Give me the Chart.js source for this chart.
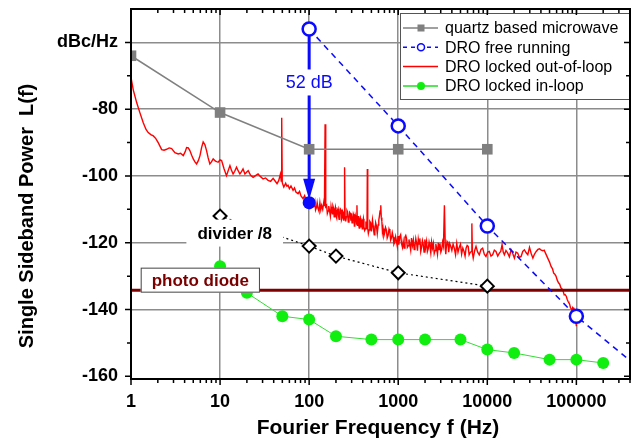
<!DOCTYPE html>
<html>
<head>
<meta charset="utf-8">
<script src="https://cdn.jsdelivr.net/npm/chart.js@4.4.1/dist/chart.umd.min.js"></script>
<style>
  html, body { margin: 0; padding: 0; background: #fff; }
</style>
</head>
<body>
<canvas id="noiseChart" width="639" height="442"></canvas>
<script>
// tick labels
const xTickValues = [1, 10, 100, 1000, 10000, 100000];
const xTickLabels = ['1', '10', '100', '1000', '10000', '100000'];
const yTickValues = [-160, -140, -120, -100, -80, -60];
const yTickLabels = ['-160', '-140', '-120', '-100', '-80', 'dBc/Hz'];

// quartz based microwave
const quartzF = [1, 10, 100, 1000, 10000];
const quartzL = [-64, -81, -92, -92, -92];

// DRO free running (last point is where the dashed line leaves the frame)
const freeF = [100, 1000, 10000, 100000, 400000];
const freeL = [-56, -85, -115, -142, -155.3];

// DRO locked in-loop
const inLoopF = [10, 20, 50, 100, 200, 500, 1000, 2000, 5000, 10000, 20000, 50000, 100000, 200000];
const inLoopL = [-127, -135, -142, -143, -148, -149, -149, -149, -149, -152, -153, -155, -155, -156];

// divider /8
const dividerF = [10, 100, 200, 1000, 10000];
const dividerL = [-112, -121, -124, -129, -133];

// photo diode floor
const photoF = [1, 400000];
const photoL = [-134.2, -134.2];

// DRO locked out-of-loop [f, L]
const outOfLoop = [
  [1,-70.5],[1.06,-74.2],[1.16,-78.1],[1.26,-81.1],[1.37,-84],[1.47,-86],[1.56,-87],[1.67,-87.6],
  [1.78,-88],[1.9,-88.8],[2.02,-90],[2.21,-92.1],[2.35,-92.3],[2.51,-92],[2.68,-91.6],[2.86,-91.8],
  [3.11,-93],[3.39,-93.4],[3.6,-93.2],[3.86,-93.9],[4.05,-92.8],[4.21,-91.5],[4.4,-91.6],[4.58,-92.4],
  [4.8,-93.8],[5.0,-94.9],[5.22,-95.8],[5.45,-96.4],[5.7,-95.4],[5.95,-93.9],[6.2,-91.5],[6.46,-89.8],
  [6.75,-90.6],[7.05,-92.4],[7.35,-94.6],[7.68,-96.4],[8.0,-95.8],[8.37,-94.9],[8.9,-95.6],[9.5,-95.9],
  [10.0,-95.2],[10.4,-95.4],[11.1,-97.9],[11.8,-99.9],[12.3,-98.5],[12.9,-96.9],[13.4,-98.2],[14.0,-99.4],
  [14.6,-98.6],[15.3,-97.4],[16.0,-98.5],[16.7,-99.4],[17.4,-98.7],[18.1,-97.9],[19.0,-99.4],[19.8,-98.9],
  [20.7,-98.4],[22.0,-99.8],[23.5,-100.4],[25.0,-99.9],[26.7,-99.4],[28.5,-100.2],[30.4,-100.9],[32.4,-100.6],
  [34.6,-101.3],[37.0,-101.6],[39.4,-100.7],[41.5,-101.5],[43.6,-102.3],[45.5,-101.4],[47.6,-99.4],[48.6,-101.5],
  [49.2,-82.6],[49.9,-102.0],[51.9,-103.3],[54.5,-102.2],[56.0,-103.0],[58.0,-102.8],[60.0,-103.8],[62.5,-103.0],
  [66.0,-104.3],[68.5,-103.6],[71.0,-104.8],[75.1,-105.3],[78.0,-104.6],[81.0,-106.0],[85.5,-106.8],[89.0,-105.9],
  [93.0,-107.5],[97.4,-108.3],[99,-106.9],[101,-107.4],[103,-109.5],[106,-108.8],[108,-107.0],[111,-107.2],
  [113,-109.3],[116,-107.8],[118,-110.2],[121,-109.4],[123,-108.0],[126,-109.8],[129,-110.6],[132,-108.0],
  [135,-110.1],[138,-108.8],[142,-110.0],[146,-107.8],[148.5,-109.0],[151,-84.5],[153.5,-109.2],[157,-108.8],
  [160,-111.2],[163,-110.5],[166,-109.0],[170,-110.7],[173,-112.0],[176,-109.2],[179,-110.6],[182,-111.3],
  [185,-109.0],[188,-109.6],[191,-112.2],[194,-110.2],[197,-109.4],[200,-111.8],[204,-112.6],[207,-110.4],
  [211,-109.8],[214,-112.0],[217,-113.0],[220,-111.7],[224,-109.9],[228,-110.2],[231,-113.1],[235,-112.5],
  [238,-110.6],[242,-111.0],[245,-113.4],[247,-112.3],[250,-97.4],[253,-112.0],[257,-113.6],[262,-112.2],
  [266,-110.4],[270,-110.8],[275,-113.8],[280,-113.0],[285,-110.9],[290,-111.2],[294,-113.4],[298,-111.2],
  [303,-114.0],[308,-113.5],[313,-111.4],[318,-112.0],[322,-115.0],[325,-114.2],[330,-111.8],[335,-112.5],
  [340,-114.4],[344,-108.8],[348,-114.8],[352,-113.6],[356,-112.0],[360,-114.7],[365,-115.6],[369,-113.2],
  [375,-112.6],[380,-115.4],[385,-114.2],[390,-113.0],[395,-115.8],[400,-113.7],[406,-112.8],[412,-115.2],
  [420,-116.3],[429,-115.7],[434,-113.6],[440,-114.6],[446,-116.0],[450,-97.9],[455,-115.8],[462,-117.2],
  [470,-116.2],[480,-113.6],[490,-114.0],[500,-116.6],[514,-113.2],[522,-114.8],[530,-116.4],[538,-117.6],
  [546,-116.7],[558,-114.0],[570,-115.0],[582,-117.2],[595,-114.7],[605,-113.2],[615,-112.0],[625,-110.5],
  [637,-108.8],[645,-112.4],[655,-113.5],[665,-116.8],[675,-115.7],[690,-117.9],[705,-117.0],[720,-115.4],
  [737,-116.2],[752,-118.6],[770,-117.8],[788,-115.9],[806,-116.7],[822,-119.2],[840,-118.5],[858,-117.0],
  [876,-118.2],[895,-120.4],[915,-119.8],[935,-118.2],[955,-119.6],[975,-121.0],[995,-118.0],[1015,-120.6],
  [1040,-118.2],[1065,-117.6],[1090,-120.3],[1115,-121.4],[1137,-119.6],[1165,-121.6],[1190,-118.3],[1215,-117.8],
  [1240,-118.7],[1265,-121.4],[1295,-120.9],[1320,-119.0],[1350,-120.6],[1380,-122.2],[1410,-118.6],[1445,-120.8],
  [1480,-119.2],[1510,-122.0],[1540,-121.2],[1575,-118.8],[1610,-120.2],[1645,-122.4],[1680,-118.9],[1715,-120.4],
  [1750,-118.7],[1790,-122.6],[1830,-121.3],[1870,-119.4],[1910,-120.6],[1950,-122.8],[1990,-119.0],[2035,-121.2],
  [2080,-119.6],[2125,-122.6],[2170,-121.8],[2220,-119.8],[2270,-121.1],[2320,-123.0],[2370,-119.8],[2425,-121.6],
  [2480,-120.2],[2535,-123.2],[2590,-122.3],[2645,-120.4],[2700,-121.6],[2760,-123.4],[2820,-120.0],[2880,-122.0],
  [2940,-120.2],[3010,-122.8],[3080,-122.0],[3150,-119.8],[3220,-121.0],[3300,-108.8],[3380,-121.8],[3420,-123.4],
  [3460,-121.6],[3535,-119.6],[3610,-120.0],[3690,-122.8],[3770,-120.2],[3880,-121.0],[4000,-122.3],[4130,-120.4],
  [4260,-121.6],[4400,-123.6],[4540,-120.2],[4690,-122.8],[4840,-121.4],[5000,-120.4],[5150,-123.4],[5310,-121.6],
  [5480,-122.6],[5630,-124.0],[5780,-121.6],[5940,-120.8],[6100,-121.1],[6250,-123.6],[6400,-123.0],[6650,-122.5],
  [6710,-114.2],[6800,-123.0],[6950,-124.6],[7200,-122.4],[7470,-121.1],[7800,-122.8],[8130,-123.6],[8500,-122.0],
  [8870,-121.6],[9250,-123.4],[9660,-124.1],[10100,-122.8],[10540,-122.6],[11000,-124.0],[11480,-123.6],[12000,-122.2],
  [12520,-122.6],[13100,-124.0],[13650,-123.1],[14150,-122.6],[14650,-120.6],[15100,-122.8],[15550,-123.6],[16200,-122.3],
  [16950,-123.1],[17700,-124.2],[18480,-122.1],[19300,-123.2],[20150,-124.6],[21000,-122.8],[21970,-123.1],[22900,-124.4],
  [23960,-124.1],[25000,-122.6],[26120,-122.1],[27300,-123.0],[28490,-123.6],[29780,-121.4],[31100,-123.2],[32500,-124.6],
  [33900,-123.4],[35400,-122.6],[37000,-122.0],[38600,-121.8],[40300,-122.2],[42000,-122.4],[43500,-122.2],[45000,-123.1],
  [47700,-124.6],[50000,-125.8],[52000,-127.1],[54000,-127.8],[55600,-129.1],[57300,-129.4],[59000,-130],[61000,-131.2],
  [63000,-132],[65000,-132.4],[67000,-133.5],[69000,-133.8],[71000,-134.5],[73000,-135.6],[74700,-135.5],[77000,-136.0],
  [79000,-137],[80700,-137.6],[82400,-138],[84000,-138.4],[86000,-139.5],[88000,-139.8],[89800,-140.4],[91000,-139.4],
  [92000,-139.5],[94000,-141.2],[96000,-142.0],[98000,-143.0],[100000,-145]
];

// 52 dB arrow
const arrowF = 100;
const arrowFrom = -56;
const arrowTo = -108;

const FONT = "'Liberation Sans', Arial, Helvetica, sans-serif";
const BLUE = '#0a0aff';
const GRID = '#8c8c8c';

function pts(fs, ls) {
  return fs.map((f, i) => ({ x: f, y: ls[i] }));
}

function textBox(ctx, text, cx, cy, font, color, padX, h, border) {
  ctx.font = font;
  const w = ctx.measureText(text).width + padX * 2;
  ctx.fillStyle = '#fff';
  ctx.fillRect(cx - w / 2, cy - h / 2, w, h);
  if (border) {
    ctx.strokeStyle = border;
    ctx.lineWidth = 1;
    ctx.strokeRect(cx - w / 2 + 0.5, cy - h / 2 + 0.5, w - 1, h - 1);
  }
  ctx.fillStyle = color;
  ctx.textAlign = 'center';
  ctx.textBaseline = 'middle';
  ctx.fillText(text, cx, cy + 1);
}

// scales get a fixed size so the plot box lands where the original one is
function fixPadding(s) {
  s.paddingTop = 0;
  s.paddingBottom = 0;
  s.paddingLeft = 0;
  s.paddingRight = 0;
}

const decorations = {
  id: 'decorations',
  beforeDatasetsDraw(chart) {
    // arrow shaft goes under the markers
    const { ctx, scales: { x, y } } = chart;
    const ax = x.getPixelForValue(arrowF);
    ctx.save();
    ctx.strokeStyle = BLUE;
    ctx.lineWidth = 3;
    ctx.beginPath();
    ctx.moveTo(ax, y.getPixelForValue(arrowFrom));
    ctx.lineTo(ax, y.getPixelForValue(arrowTo) - 20);
    ctx.stroke();
    ctx.restore();
  },
  afterDatasetsDraw(chart) {
    const { ctx, chartArea: a, scales: { x, y } } = chart;
    ctx.save();

    // arrow head + end dot
    const ax = x.getPixelForValue(arrowF);
    const ay = y.getPixelForValue(arrowTo);
    ctx.fillStyle = BLUE;
    ctx.beginPath();
    ctx.moveTo(ax - 6, ay - 24);
    ctx.lineTo(ax + 6, ay - 24);
    ctx.lineTo(ax, ay - 3);
    ctx.closePath();
    ctx.fill();
    ctx.beginPath();
    ctx.arc(ax, ay, 6.5, 0, Math.PI * 2);
    ctx.fill();

    textBox(ctx, '52 dB', ax, y.getPixelForValue(-72), '18px ' + FONT, BLUE, 2, 26);
    textBox(ctx, 'divider /8', x.getPixelForValue(14.6), y.getPixelForValue(-117.1), 'bold 17px ' + FONT, '#000', 11, 27);
    textBox(ctx, 'photo diode', x.getPixelForValue(6.0), y.getPixelForValue(-131.2), 'bold 17px ' + FONT, '#7a0000', 11, 25, '#444');

    // legend
    const lx = a.right - 230, ly = a.top + 4, lw = 230, lh = 87;
    ctx.fillStyle = '#fff';
    ctx.fillRect(lx, ly, lw, lh);
    ctx.strokeStyle = '#555';
    ctx.lineWidth = 1;
    ctx.strokeRect(lx + 0.5, ly + 0.5, lw - 1, lh - 1);
    const rows = [
      { t: 'quartz based microwave', c: '#808080', dash: [], mark: 'sq' },
      { t: 'DRO free running', c: BLUE, dash: [4, 4], mark: 'oc' },
      { t: 'DRO locked out-of-loop', c: '#ff0000', dash: [], mark: null },
      { t: 'DRO locked in-loop', c: '#22dd22', dash: [], mark: 'fc' }
    ];
    rows.forEach((r, i) => {
      const ry = ly + 15 + i * 19.3;
      ctx.strokeStyle = r.c;
      ctx.lineWidth = 1.5;
      ctx.setLineDash(r.dash);
      ctx.beginPath();
      ctx.moveTo(lx + 3, ry);
      ctx.lineTo(lx + 38, ry);
      ctx.stroke();
      ctx.setLineDash([]);
      const mx = lx + 21;
      if (r.mark === 'sq') {
        ctx.fillStyle = r.c;
        ctx.fillRect(mx - 3.5, ry - 3.5, 7, 7);
      } else if (r.mark === 'oc') {
        ctx.fillStyle = '#fff';
        ctx.beginPath();
        ctx.arc(mx, ry, 3.5, 0, Math.PI * 2);
        ctx.fill();
        ctx.stroke();
      } else if (r.mark === 'fc') {
        ctx.fillStyle = '#10ee10';
        ctx.beginPath();
        ctx.arc(mx, ry, 4, 0, Math.PI * 2);
        ctx.fill();
      }
      ctx.fillStyle = '#000';
      ctx.font = '16px ' + FONT;
      ctx.textAlign = 'left';
      ctx.textBaseline = 'middle';
      ctx.fillText(r.t, lx + 45, ry + 1);
    });

    // frame + tick marks (outward left/bottom, inward top/right)
    ctx.strokeStyle = '#000';
    ctx.lineWidth = 2;
    ctx.strokeRect(a.left, a.top, a.right - a.left, a.bottom - a.top);
    ctx.lineWidth = 1.5;
    ctx.beginPath();
    for (let d = 1; d <= 100000; d *= 10) {
      for (let m = 1; m < 10; m++) {
        const v = d * m;
        if (v > 400000) break;
        const px = x.getPixelForValue(v);
        const len = m === 1 ? 6 : 4;
        ctx.moveTo(px, a.bottom);
        ctx.lineTo(px, a.bottom + len);
        ctx.moveTo(px, a.top);
        ctx.lineTo(px, a.top + len);
      }
    }
    for (let v = -160; v < -50; v += 10) {
      const py = y.getPixelForValue(v);
      const len = v % 20 === 0 ? 6 : 4;
      ctx.moveTo(a.left, py);
      ctx.lineTo(a.left - len, py);
      ctx.moveTo(a.right, py);
      ctx.lineTo(a.right - len, py);
    }
    ctx.stroke();
    ctx.restore();
  },
  afterDraw(chart) {
    const { ctx } = chart;
    ctx.save();
    ctx.fillStyle = '#000';
    ctx.textAlign = 'center';
    ctx.textBaseline = 'middle';
    ctx.font = 'bold 21px ' + FONT;
    ctx.fillText('Fourier Frequency f (Hz)', 378, 428);
    ctx.translate(27, 216);
    ctx.rotate(-Math.PI / 2);
    ctx.font = 'bold 20px ' + FONT;
    ctx.fillText('Single Sideband Power  L(f)', 0, 0);
    ctx.restore();
  }
};

const ctx = document.getElementById('noiseChart').getContext('2d');

const noiseChart = new Chart(ctx, {
  type: 'scatter',
  data: {
    datasets: [
      {
        label: 'DRO free running',
        data: pts(freeF, freeL),
        showLine: true,
        order: 1,
        borderColor: BLUE,
        borderWidth: 1.5,
        borderDash: [6, 5],
        pointStyle: 'circle',
        pointRadius: c => (c.raw && c.raw.x > 100000) ? 0 : 6.5,
        pointBackgroundColor: '#fff',
        pointBorderColor: BLUE,
        pointBorderWidth: 2.5
      },
      {
        label: 'quartz based microwave',
        data: pts(quartzF, quartzL),
        showLine: true,
        order: 2,
        borderColor: '#808080',
        borderWidth: 1.5,
        pointStyle: 'rect',
        pointRadius: 7.5,
        pointBackgroundColor: '#7f7f7f',
        pointBorderColor: '#7f7f7f',
        pointBorderWidth: 0
      },
      {
        label: 'DRO locked in-loop',
        data: pts(inLoopF, inLoopL),
        showLine: true,
        order: 3,
        borderColor: '#33dd33',
        borderWidth: 1,
        pointRadius: 6,
        pointBackgroundColor: '#10ee10',
        pointBorderWidth: 0
      },
      {
        label: 'divider /8',
        data: pts(dividerF, dividerL),
        showLine: true,
        order: 4,
        borderColor: '#000',
        borderWidth: 1.2,
        borderDash: [2, 3],
        pointStyle: 'rectRot',
        pointRadius: 6.5,
        pointBackgroundColor: '#fff',
        pointBorderColor: '#000',
        pointBorderWidth: 2
      },
      {
        label: 'photo diode',
        data: pts(photoF, photoL),
        showLine: true,
        order: 5,
        borderColor: '#800000',
        borderWidth: 3,
        pointRadius: 0
      },
      {
        label: 'DRO locked out-of-loop',
        data: outOfLoop.map(p => ({ x: p[0], y: p[1] })),
        showLine: true,
        order: 6,
        borderColor: '#ff0000',
        borderWidth: 1.4,
        pointRadius: 0
      }
    ]
  },
  options: {
    responsive: false,
    animation: false,
    clip: 0,
    layout: { padding: { top: 6, right: 8, left: 0, bottom: 0 } },
    plugins: {
      legend: { display: false },
      tooltip: { enabled: false }
    },
    scales: {
      x: {
        type: 'logarithmic',
        min: 1,
        max: 400000,
        afterBuildTicks: s => { s.ticks = xTickValues.map(v => ({ value: v })); },
        afterFit: s => { s.height = 63; fixPadding(s); },
        border: { display: false },
        grid: {
          drawTicks: false,
          lineWidth: 1.5,
          color: c => (c.tick && c.tick.value > 1) ? GRID : 'rgba(0,0,0,0)'
        },
        ticks: {
          autoSkip: false,
          maxRotation: 0,
          padding: 12,
          color: '#000',
          font: { family: FONT, size: 18, weight: 'bold' },
          callback: (v, i) => xTickLabels[i]
        }
      },
      y: {
        type: 'linear',
        min: -160.8,
        max: -50,
        afterBuildTicks: s => { s.ticks = yTickValues.map(v => ({ value: v })); },
        afterFit: s => { s.width = 131; fixPadding(s); },
        border: { display: false },
        grid: {
          drawTicks: false,
          lineWidth: 1.5,
          color: c => (c.tick && c.tick.value > -160) ? GRID : 'rgba(0,0,0,0)'
        },
        ticks: {
          padding: 13,
          color: '#000',
          font: { family: FONT, size: 18, weight: 'bold' },
          callback: (v, i) => yTickLabels[i]
        }
      }
    }
  },
  plugins: [decorations]
});
</script>
</body>
</html>
